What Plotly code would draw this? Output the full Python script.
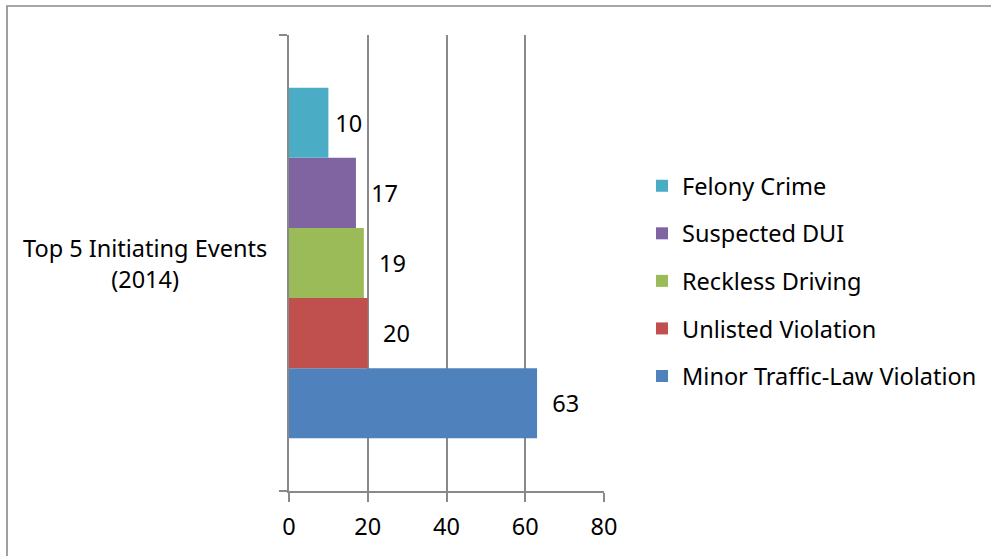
import plotly.graph_objects as go

# Chart data
category = "Top 5 Initiating Events<br>(2014)"
series_names = ["Minor Traffic-Law Violation", "Unlisted Violation", "Reckless Driving",
                "Suspected DUI", "Felony Crime"]
series_values = [63, 20, 19, 17, 10]
series_colors = ["#4F81BD", "#C0504D", "#9BBB59", "#8064A2", "#4BACC6"]
label_pad = ["\u00a0\u00a0", "\u00a0\u00a0", "\u00a0\u00a0", "\u00a0\u00a0", "\u2009"]
x_ticks = [0, 20, 40, 60, 80]

W, H = 991, 556
ML, MR, MT, MB = 289, 387, 35, 65
FONT = "Noto Sans"
FS = 23.5
GRAY = "#898989"

fig = go.Figure()
n = len(series_names)
for i, (name, val, col) in enumerate(zip(series_names, series_values, series_colors)):
    fig.add_trace(go.Bar(
        y=[category], x=[val], name=name, orientation="h",
        marker=dict(color=col, line=dict(width=0)),
        text=[val], texttemplate=label_pad[i] + "%{x}", textposition="outside",
        textfont=dict(family=FONT, size=FS, color="black"),
        cliponaxis=False, legendgroup=name, legendrank=n - i,
    ))

pw = W - ML - MR
ph = H - MT - MB
# outer chart frame (runs off the right and bottom edges)
fig.add_shape(type="rect", xref="paper", yref="paper",
              x0=(7 - ML) / pw, x1=(W + 20 - ML) / pw,
              y0=-(H + 20 - MT - ph) / ph, y1=(ph + MT - 6) / ph,
              line=dict(color=GRAY, width=1.6), fillcolor="rgba(0,0,0,0)", layer="below")

fig.add_annotation(text=category, xref="paper", yref="y", x=(145 - ML) / pw, y=0,
                   showarrow=False, align="center", xanchor="center", yanchor="middle",
                   font=dict(family=FONT, size=FS, color="black"))

fig.update_layout(
    width=W, height=H, margin=dict(l=ML, r=MR, t=MT, b=MB, autoexpand=False),
    paper_bgcolor="white", plot_bgcolor="white",
    barmode="group", bargap=0.231, bargroupgap=0,
    font=dict(family=FONT, size=FS, color="black"),
    showlegend=True,
    legend=dict(traceorder="grouped", tracegroupgap=14,
                xref="container", yref="container",
                x=642 / W, xanchor="left",
                y=(H - 281) / H, yanchor="middle",
                font=dict(family=FONT, size=FS, color="black"),
                bgcolor="rgba(0,0,0,0)"),
    xaxis=dict(range=[0, 80], tickvals=x_ticks, showgrid=True, gridcolor=GRAY, gridwidth=1.5,
               zeroline=False, showline=True, linecolor=GRAY, linewidth=1.5,
               ticks="outside", ticklen=9, tickwidth=1.5, tickcolor=GRAY,
               tickfont=dict(family=FONT, size=FS, color="black"), ticklabelstandoff=5),
    yaxis=dict(type="category", range=[-0.5, 0.5], tickson="boundaries",
               showticklabels=False, showgrid=False, zeroline=False,
               showline=True, linecolor=GRAY, linewidth=1.5,
               ticks="outside", ticklen=8, tickwidth=1.5, tickcolor=GRAY),
)

fig.write_html("out.html")
